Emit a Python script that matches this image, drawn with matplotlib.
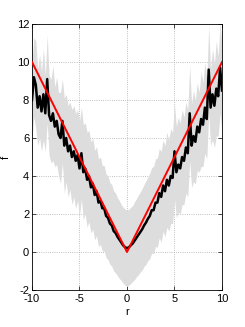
import numpy as np
import matplotlib
matplotlib.use('Agg')
import matplotlib.pyplot as plt

# input grid r = -10 .. 10, step 0.2
r = np.linspace(-10, 10, 101)

# predictive mean (black line)
f_mean = [8.0, 9.2, 8.8, 7.6, 8.2, 7.4, 8.3, 7.3, 9.1, 7.2,
          6.9, 7.3, 6.6, 6.9, 6.2, 6.0, 6.9, 5.6, 6.0, 5.3,
          5.6, 5.0, 5.3, 4.8, 5.1, 4.4, 5.2, 4.2, 4.4, 3.8,
          4.0, 3.4, 3.6, 3.0, 3.2, 2.6, 2.7, 2.3, 2.3, 1.9,
          1.8, 1.5, 1.4, 1.1, 1.0, 0.8, 0.65, 0.5, 0.35, 0.25,
          0.2,
          0.25, 0.35, 0.45, 0.6, 0.75, 0.9, 1.05, 1.2, 1.4, 1.55,
          1.75, 1.9, 2.2, 2.2, 2.6, 2.6, 3.1, 2.9, 3.5, 3.2,
          3.8, 3.5, 4.0, 3.9, 5.3, 4.2, 4.6, 4.4, 5.0, 4.8,
          5.5, 5.2, 7.3, 5.6, 6.1, 5.8, 6.6, 6.3, 7.0, 6.7,
          7.6, 7.0, 9.6, 7.6, 8.3, 7.7, 8.6, 8.2, 9.7, 8.5]

# half width of the grey band (2 std)
f_band = [2.0, 2.1, 2.3, 2.0, 2.2, 2.1, 2.4, 2.0, 2.3, 2.1,
          2.2, 2.5, 2.1, 2.3, 2.2, 2.4, 2.2, 2.5, 2.3, 2.4,
          2.3, 2.5, 2.4, 2.5, 2.4, 2.5, 2.4, 2.5, 2.4, 2.5,
          2.4, 2.4, 2.4, 2.35, 2.35, 2.3, 2.3, 2.25, 2.25, 2.2,
          2.2, 2.15, 2.15, 2.1, 2.1, 2.05, 2.05, 2.0, 2.0, 2.0,
          2.0,
          2.0, 2.0, 2.0, 2.05, 2.05, 2.1, 2.1, 2.15, 2.15, 2.2,
          2.2, 2.25, 2.25, 2.3, 2.3, 2.35, 2.35, 2.4, 2.4, 2.4,
          2.5, 2.4, 2.5, 2.4, 2.5, 2.4, 2.5, 2.4, 2.5, 2.3,
          2.4, 2.3, 2.5, 2.2, 2.4, 2.2, 2.3, 2.1, 2.5, 2.2,
          2.4, 2.1, 2.3, 2.0, 2.4, 2.2, 2.5, 2.1, 2.4, 2.2]

# true function |r|
r_true = [-10, 0, 10]
f_true = [10, 0, 10]

f_mean = np.array(f_mean)
f_band = np.array(f_band)

fig = plt.figure(figsize=(2.45, 3.27), dpi=100)
ax = fig.add_axes([0.1306, 0.1131, 0.7755, 0.8135])

ax.fill_between(r, f_mean - f_band, f_mean + f_band, color='#dddddd', linewidth=0, zorder=1)
ax.plot(r, f_mean, color='black', linewidth=1.8, zorder=2)
ax.plot(r_true, f_true, color='red', linewidth=1.4, zorder=3)

ax.set_xlim(-10, 10)
ax.set_ylim(-2, 12)
ax.set_xticks([-10, -5, 0, 5, 10])
ax.set_yticks(range(-2, 13, 2))

fam = ['Liberation Sans Narrow', 'Liberation Sans', 'DejaVu Sans']
ax.set_xticklabels([str(v) for v in [-10, -5, 0, 5, 10]], family=fam, fontsize=8)
ax.set_yticklabels([str(v) for v in range(-2, 13, 2)], family=fam, fontsize=8)
ax.set_xlabel('r', family=fam, fontsize=8, labelpad=2)
ax.set_ylabel('f', family=fam, fontsize=8, labelpad=4)

ax.tick_params(direction='in', length=3, width=0.5, top=True, right=True, pad=2)
ax.tick_params(axis='x', pad=3.2)
ax.grid(True, linestyle=':', color='#aaaaaa', linewidth=0.6)
ax.set_axisbelow(True)
for s in ax.spines.values():
    s.set_linewidth(0.6)

fig.savefig('out.png', dpi=100)
